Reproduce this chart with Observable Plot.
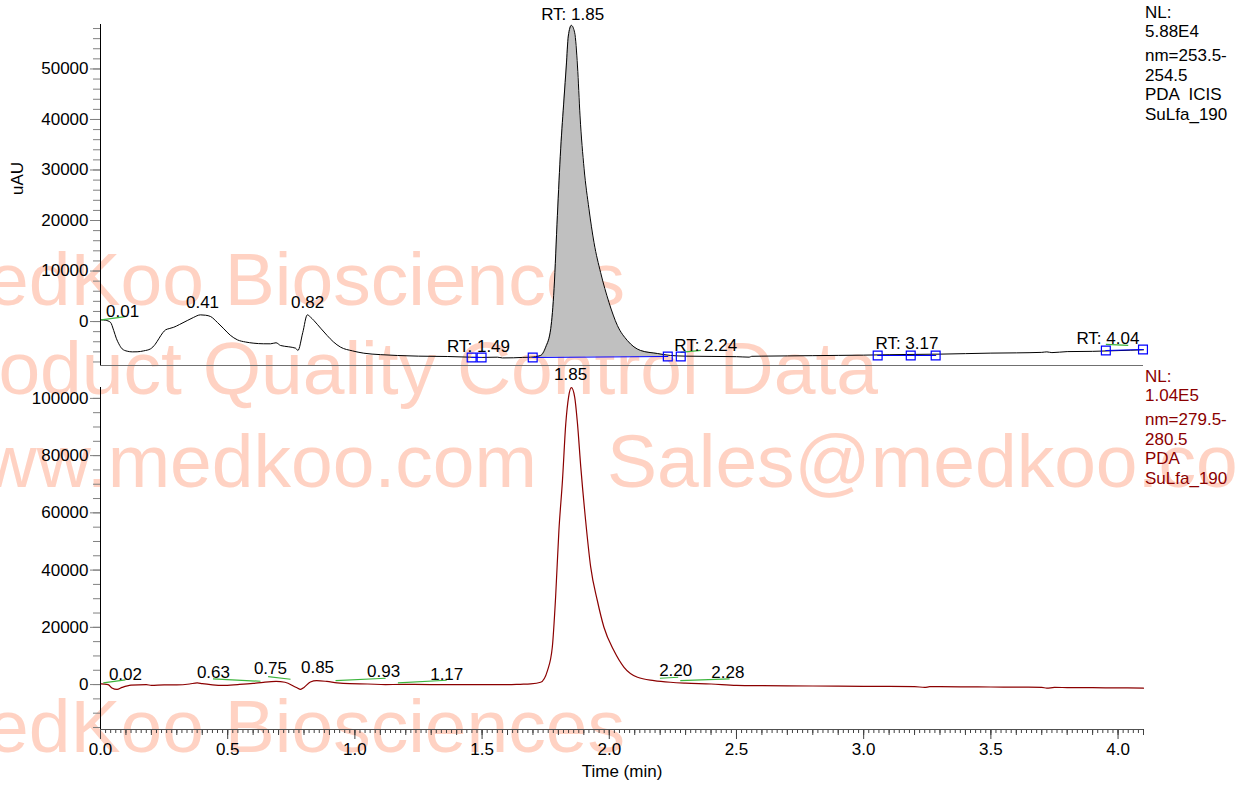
<!DOCTYPE html>
<html><head><meta charset="utf-8">
<script src="https://cdn.jsdelivr.net/npm/d3@7"></script>
<script src="https://cdn.jsdelivr.net/npm/@observablehq/plot@0.6"></script>
<style>
body{margin:0;background:#fff;font-family:"Liberation Sans",Arial,sans-serif;}
#wrap{position:relative;width:1238px;height:786px;overflow:hidden;background:#fff;}
#wrap > svg{position:absolute;left:0;}
</style></head><body><div id="wrap"></div>
<script>
// ---------- DATA ----------
// Top trace (PDA 254 nm), time in min, signal in uAU
const topTime = [0.000,0.003,0.020,0.039,0.052,0.062,0.072,0.085,0.105,0.125,0.144,0.170,0.197,0.215,0.229,0.245,0.256,0.270,0.288,0.310,0.341,0.365,0.393,0.413,0.433,0.460,0.485,0.510,0.538,0.570,0.603,0.640,0.668,0.690,0.708,0.740,0.767,0.776,0.795,0.813,0.825,0.839,0.865,0.891,0.915,0.944,0.990,1.035,1.100,1.167,1.250,1.363,1.450,1.500,1.560,1.580,1.624,1.660,1.691,1.730,1.750,1.770,1.783,1.796,1.809,1.822,1.831,1.839,1.851,1.864,1.875,1.885,1.901,1.920,1.940,1.966,1.999,2.032,2.071,2.123,2.189,2.241,2.300,2.400,2.500,2.550,2.560,2.600,2.700,2.800,2.900,3.000,3.100,3.170,3.300,3.400,3.500,3.600,3.700,3.720,3.740,3.800,3.900,4.000,4.100];
const topSignal = [300,336,250,-138,-1778,-3300,-4406,-5400,-5869,-6000,-5987,-5800,-5394,-4500,-3418,-2200,-1640,-1400,-1126,-600,198,800,1324,1250,988,-200,-1442,-2700,-3616,-4050,-4288,-4400,-4406,-4200,-4742,-5000,-5276,-5730,-2200,1324,900,198,-1300,-2766,-4000,-5078,-5800,-6264,-6550,-6718,-6850,-6916,-7050,-7100,-7050,-7200,-7173,-7100,-7054,-6718,-5078,-1383,6521,20946,34185,44065,50586,56514,58628,57166,50586,40706,30233,22329,15610,9682,3754,-790,-3754,-5730,-6323,-6718,-6850,-6900,-6950,-7050,-6880,-6850,-6800,-6750,-6700,-6650,-6560,-6520,-6450,-6350,-6250,-6200,-6100,-6000,-6150,-5950,-5900,-5750,-5600];

// Integration markers on the top trace
const markerTime  = [1.459,1.498,1.699,2.230,2.281,3.055,3.185,3.283,3.952,4.098];
const markerValue = [-7114,-7114,-7114,-6916,-6916,-6718,-6718,-6718,-5730,-5533];
const markerGroup = ["a","a","b","b",null,"c","c","c","d","d"];

// Green tangent segments, top panel
const greenTopX1 = [0.003, 2.280, 3.952];
const greenTopY1 = [336, -6100, -4500];
const greenTopX2 = [0.098, 2.360, 4.040];
const greenTopY2 = [988, -5700, -4700];

// Peak labels, top panel
const topLabelText = ["0.01","0.41","0.82","RT: 1.49","RT: 1.85","RT: 2.24","RT: 3.17","RT: 4.04"];
const topLabelTime = [0.087,0.401,0.814,1.486,1.856,2.379,3.170,3.960];
const topLabelValue = [1976,3754,3754,-4940,60860,-4742,-4347,-3359];

// Bottom trace (PDA 280 nm)
const botTime = [0.000,0.003,0.030,0.045,0.065,0.085,0.120,0.180,0.200,0.250,0.300,0.350,0.380,0.400,0.440,0.480,0.540,0.600,0.640,0.690,0.725,0.770,0.787,0.800,0.825,0.850,0.890,0.930,0.980,1.050,1.120,1.200,1.300,1.400,1.500,1.600,1.650,1.691,1.730,1.757,1.776,1.789,1.802,1.816,1.829,1.840,1.851,1.864,1.875,1.888,1.907,1.927,1.953,1.979,2.018,2.058,2.111,2.176,2.241,2.300,2.400,2.500,2.600,2.700,2.800,2.900,3.000,3.100,3.200,3.240,3.260,3.300,3.400,3.500,3.600,3.700,3.720,3.750,3.800,3.900,4.000,4.100];
const botSignal = [200,245,0,-1200,-1700,-1000,-200,0,-300,-100,-100,200,600,300,-100,-300,0,400,800,1100,800,-1000,-1650,-1000,900,1400,1100,600,300,200,0,50,0,0,0,-50,100,245,804,4896,13044,30529,53854,71339,91167,100469,103756,100469,91167,75991,57351,41020,29375,20038,11890,6050,2553,1399,804,500,200,-300,-400,-450,-500,-550,-600,-650,-700,-1000,-750,-750,-800,-850,-900,-950,-1250,-1000,-1050,-1100,-1150,-1250];

// Green tangent segments, bottom panel
const greenBotX1 = [0.011,0.442,0.659,0.924,1.169,2.199,2.279];
const greenBotY1 = [594,1993,2798,1399,594,2200,1400];
const greenBotX2 = [0.098,0.629,0.747,1.121,1.361,2.271,2.473];
const greenBotY2 = [1643,1154,1853,2203,1504,2550,2000];

// Peak labels, bottom panel
const botLabelText = ["0.02","0.63","0.75","0.85","0.93","1.17","1.85","2.20","2.28"];
const botLabelTime = [0.098,0.444,0.668,0.853,1.113,1.361,1.848,2.261,2.466];
const botLabelValue = [3497,4196,5595,5945,4546,3497,108400,4896,4196];

// Axes
const xDomain = [0, 4.1];
const topYDomain = [-8700, 58800];
const botYDomain = [-15700, 103800];
const topYTicks = [0,10000,20000,30000,40000,50000];
const botYTicks = [0,20000,40000,60000,80000,100000];
const xTicks = [0,0.5,1.0,1.5,2.0,2.5,3.0,3.5,4.0];

// Side info text
const topInfo = ["NL:","5.88E4","nm=253.5-","254.5","PDA  ICIS","SuLfa_190"];
const botInfo = ["NL:","1.04E5","nm=279.5-","280.5","PDA","SuLfa_190"];

// Watermark text
const wmLines = ["MedKoo Biosciences","Product Quality Control Data","www.medkoo.com","Sales@medkoo.com","MedKoo Biosciences"];

// ---------- BUILD ----------
const W = 1238;
const FONT = "Liberation Sans, Arial, sans-serif";
const wrap = d3.select("#wrap");

// watermark layer
const wm = wrap.append("svg").attr("width", W).attr("height", 786).style("top","0px");
const wmPos = [[625,305,"end"],[878,394,"end"],[537,487,"end"],[607,487,"start"],[625,752,"end"]];
wmLines.forEach((s,i)=>{
  wm.append("text").attr("x",wmPos[i][0]).attr("y",wmPos[i][1]).attr("text-anchor",wmPos[i][2])
    .attr("font-family",FONT).attr("font-size",75).attr("fill","rgb(255,210,195)").text(s);
});

const topData = topTime.map((t,i)=>({t, v: topSignal[i]}));
const markers = markerTime.map((t,i)=>({t, v: markerValue[i], g: markerGroup[i]}));
const b0 = markers[2], b1 = markers[3];
const baseAt = t => b0.v + (b1.v - b0.v) * (t - b0.t) / (b1.t - b0.t);
const peakData = [{t:b0.t, v:b0.v, b:b0.v},
  ...topData.filter(d=>d.t>b0.t && d.t<b1.t).map(d=>({t:d.t, v:d.v, b:baseAt(d.t)})),
  {t:b1.t, v:b1.v, b:b1.v}];
const greenTop = greenTopX1.map((x,i)=>({x1:x, y1:greenTopY1[i], x2:greenTopX2[i], y2:greenTopY2[i]}));
const topLabels = topLabelText.map((s,i)=>({s, t: topLabelTime[i], v: topLabelValue[i]}));

const style = {background:"transparent", fontFamily: FONT, fontSize:"17px", overflow:"visible", color:"#000"};

const topPlot = Plot.plot({
  width: W, height: 376,
  marginLeft: 100, marginRight: 95, marginTop: 24, marginBottom: 11,
  x: {domain: xDomain, axis: null},
  y: {domain: topYDomain, axis: null},
  style,
  marks: [
    Plot.areaY(peakData, {x:"t", y1:"b", y2:"v", fill:"#c0c0c0", curve:"monotone-x"}),
    Plot.line(topData, {x:"t", y:"v", stroke:"#000", strokeWidth:1, curve:"monotone-x"}),
    Plot.line(markers.filter(d=>d.g), {x:"t", y:"v", z:"g", stroke:"#0000ff", strokeWidth:1.2}),
    Plot.link(greenTop, {x1:"x1", y1:"y1", x2:"x2", y2:"y2", stroke:"#3cb43c", strokeWidth:1.2}),
    Plot.dot(markers, {x:"t", y:"v", symbol:"square", r:5, stroke:"#0000ff", fill:"none", strokeWidth:1.2}),
    Plot.text(topLabels, {x:"t", y:"v", text:"s", fontSize:17, fill:"#000"}),
    Plot.axisY(d3.range(-8000, 58001, 2000), {tickSize:7, text:null, stroke:"#808080"}),
    Plot.axisY(topYTicks, {tickSize:10, tickPadding:2, tickFormat:d3.format("d"), fontSize:17, stroke:"#808080", fill:"#000", label:null}),
    Plot.ruleX([0], {stroke:"#000", strokeWidth:1}),
    Plot.ruleY([topYDomain[0]], {stroke:"#707070", strokeWidth:1.2}),
    Plot.text(["uAU"], {text:d=>d, frameAnchor:"left", dx:-83, rotate:-90, fontSize:17, fill:"#000"})
  ]
});
d3.select(topPlot).style("top","0px");
wrap.node().appendChild(topPlot);

const botData = botTime.map((t,i)=>({t, v: botSignal[i]}));
const greenBot = greenBotX1.map((x,i)=>({x1:x, y1:greenBotY1[i], x2:greenBotX2[i], y2:greenBotY2[i]}));
const botLabels = botLabelText.map((s,i)=>({s, t: botLabelTime[i], v: botLabelValue[i]}));

const botPlot = Plot.plot({
  width: W, height: 410,
  marginLeft: 100, marginRight: 95, marginTop: 11, marginBottom: 57,
  x: {domain: xDomain, axis: null},
  y: {domain: botYDomain, axis: null},
  style,
  marks: [
    Plot.line(botData, {x:"t", y:"v", stroke:"#8b0000", strokeWidth:1.2, curve:"monotone-x"}),
    Plot.link(greenBot, {x1:"x1", y1:"y1", x2:"x2", y2:"y2", stroke:"#3cb43c", strokeWidth:1.2}),
    Plot.text(botLabels, {x:"t", y:"v", text:"s", fontSize:17, fill:"#000"}),
    Plot.axisY(d3.range(-15000, 103801, 5000), {tickSize:7, text:null, stroke:"#808080"}),
    Plot.axisY(botYTicks, {tickSize:10, tickPadding:2, tickFormat:d3.format("d"), fontSize:17, stroke:"#808080", fill:"#000", label:null}),
    Plot.axisX(d3.range(0, 4.101, 0.02).map(d=>+d.toFixed(2)), {tickSize:4, text:null, stroke:"#404040"}),
    Plot.axisX(d3.range(0, 4.101, 0.1).map(d=>+d.toFixed(1)), {tickSize:6, text:null, stroke:"#404040"}),
    Plot.axisX(xTicks, {tickSize:10, tickPadding:3, tickFormat:d3.format(".1f"), fontSize:17, stroke:"#404040", fill:"#000", label:null}),
    Plot.ruleX([0], {stroke:"#000", strokeWidth:1}),
    Plot.ruleY([botYDomain[0]], {stroke:"#505050", strokeWidth:1.2}),
    Plot.text(["Time (min)"], {text:d=>d, frameAnchor:"bottom", dy:47, fontSize:17, fill:"#000"})
  ]
});
d3.select(botPlot).style("top","376px");
wrap.node().appendChild(botPlot);

// side info layer
const side = wrap.append("svg").attr("width", W).attr("height", 786).style("top","0px").style("pointer-events","none");
function info(lines, y0, color){
  lines.forEach((s,i)=>{
    side.append("text").attr("x",1145).attr("y", y0 + i*19.5 + (i>=2?4.5:0))
      .attr("dominant-baseline","central").attr("font-family",FONT).attr("font-size",17)
      .attr("fill",color).style("white-space","pre").text(s);
  });
}
info(topInfo, 12, "#000");
info(botInfo, 376, "#8b0000");
</script></body></html>
